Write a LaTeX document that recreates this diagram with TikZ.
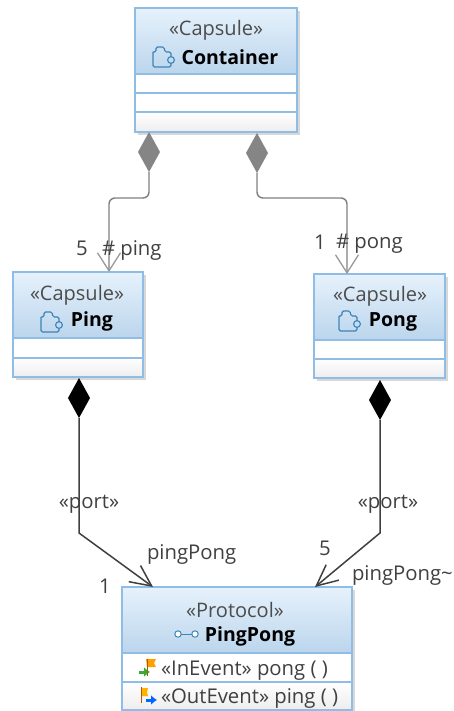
\documentclass[tikz,border=0pt]{standalone}
\usepackage{fontspec}
\setmainfont{Open Sans}
\usetikzlibrary{arrows.meta,shapes.geometric,calc}
\definecolor{edge}{HTML}{8FBDE6}
\definecolor{hdtop}{HTML}{E6F2FC}
\definecolor{hdbot}{HTML}{BBD5EC}
\definecolor{ink}{HTML}{404040}
\definecolor{iconblue}{HTML}{3D85B8}
\tikzset{
 x=1pt,y=-1pt,
 every node/.style={inner sep=0pt,outer sep=0pt,font=\fontsize{20.3}{22}\selectfont,text=ink},
 boxbody/.style={rectangle,anchor=north west,draw=edge,line width=1.4pt,fill=white},
 header/.style={draw=edge,line width=1.1pt,top color=hdtop,bottom color=hdbot},
 comp/.style={draw=edge,line width=1.1pt,fill=white},
 lastcomp/.style={draw=edge,line width=1.1pt,top color=white,bottom color=black!7},
 shade/.style={fill=black!28,draw=none,opacity=.55},
 stereo/.style={font=\fontsize{20}{22}\selectfont,text=black!70,yshift=-1.5pt},
 title/.style={font=\fontsize{19.5}{22}\bfseries\selectfont,text=black},
 lab/.style={text=ink,yshift=-2.5pt},
 digit/.style={text=ink,yshift=-1pt},
 graydia/.style={diamond,aspect=.55,fill=black!48,draw=none,minimum width=22pt,minimum height=40pt},
 blackdia/.style={diamond,aspect=.55,fill=black,draw=none,minimum width=22pt,minimum height=40pt},
 graylink/.style={draw=black!50,line width=1.4pt,rounded corners=6pt,-{Straight Barb[length=18pt,width=23pt,black!40,line width=1.3pt]}},
 blacklink/.style={draw=black!75,line width=1.5pt,-{Straight Barb[length=21pt,width=20pt,black!75,line width=1.5pt]}},
 capicon/.style={draw=iconblue,line width=1.1pt},
}
\newcommand{\capicon}[2]{%
 \begin{scope}[shift={(#1,#2)}]
  \draw[capicon,rounded corners=1.5pt] (-10,-5) -- (-7,-5) -- (-7,-10) -- (1,-10) -- (2,-5) -- (8,-5) -- (8,0) (8,6) -- (8,10) -- (-10,10) -- (-10,-5);
  \draw[capicon] (8,3) circle (3.4pt);
 \end{scope}}
\begin{document}
\begin{tikzpicture}
\useasboundingbox (0,0) rectangle (453,711);
\fill[white] (0,0) rectangle (453,711);

% ---- Container
\fill[shade] (138,11) rectangle (300,135);
\node[boxbody,minimum width=162pt,minimum height=124pt] (container) at (135,8) {};
\draw[header] (135,8) rectangle (297,74);
\draw[comp] (135,74) rectangle (297,93);
\draw[comp] (135,93) rectangle (297,112);
\draw[lastcomp] (135,112) rectangle (297,132);
\node[stereo] (containerS) at (216,29) {«Capsule»};
\node[title] (containerT) at (230,57) {Container};
\capicon{163}{57}

% ---- Ping
\fill[shade] (16,275) rectangle (146,380);
\node[boxbody,minimum width=130pt,minimum height=105pt] (ping) at (13,272) {};
\draw[header] (13,272) rectangle (143,338);
\draw[comp] (13,338) rectangle (143,358);
\draw[lastcomp] (13,358) rectangle (143,377);
\node[stereo] (pingS) at (77,294) {«Capsule»};
\node[title] (pingT) at (92,321) {Ping};
\capicon{51}{322}

% ---- Pong
\fill[shade] (317,277) rectangle (448,381);
\node[boxbody,minimum width=131pt,minimum height=104pt] (pong) at (314,274) {};
\draw[header] (314,274) rectangle (445,340);
\draw[comp] (314,340) rectangle (445,359);
\draw[lastcomp] (314,359) rectangle (445,378);
\node[stereo] (pongS) at (380,295) {«Capsule»};
\node[title] (pongT) at (393,322) {Pong};
\capicon{349}{321}

% ---- PingPong
\fill[shade] (125,590) rectangle (355,711);
\node[boxbody,minimum width=230pt,minimum height=123pt] (proto) at (122,587) {};
\draw[header] (122,587) rectangle (352,653);
\draw[comp] (122,653) rectangle (352,682);
\draw[lastcomp] (122,682) rectangle (352,710);
\node[stereo] (protoS) at (235,608) {«Protocol»};
\node[title] (protoT) at (250,636) {PingPong};
\draw[iconblue,line width=1pt,fill=white] (178,634) circle (3.2pt) (195,634) circle (3.2pt);
\draw[iconblue,line width=1pt] (181,634) -- (192,634);
\node[lab,anchor=west,yshift=1pt] (inev) at (161,669) {«InEvent» pong ( )};
\node[lab,anchor=west,yshift=1pt] (outev) at (161,697) {«OutEvent» ping ( )};
% event icons
\draw[-{Latex[length=6pt,width=10pt]},draw=black!40!green!80,line width=3pt] (139,672) -- (150,672);
\fill[orange!75!yellow] (146,659) -- (156,659) -- (154,663) -- (156,667) -- (147,667) -- cycle;
\draw[orange!70!black,line width=1pt] (147,659) -- (147,676);
\fill[orange!60!yellow] (141,688) -- (148,688) -- (147,692) -- (148,696) -- (142,696) -- cycle;
\draw[orange!70!black,line width=1pt] (141,687) -- (141,703);
\draw[-{Latex[length=6pt,width=10pt]},draw=blue!60!cyan,line width=3pt] (146,700) -- (157,700);

% ---- Diamonds
\node[graydia] (d1) at (149,152) {};
\node[graydia] (d2) at (257,153) {};
\node[blackdia] (d3) at (79,398) {};
\node[blackdia] (d4) at (380,400) {};

% ---- Connector ends
\coordinate (pingIn) at (109,272);
\coordinate (pongIn) at (347,274);
\coordinate (protoL) at (153,587);
\coordinate (protoR) at (315,587);
\coordinate (kneeL) at (79,533);
\coordinate (kneeR) at (380,533);

\draw[graylink] (d1.south) -- (149,198) -- (109,198) -- (pingIn);
\draw[graylink] (d2.south) -- (257,198) -- (347,198) -- (pongIn);
\draw[blacklink] (d3.south) -- (kneeL) -- (protoL);
\draw[blacklink] (d4.south) -- (kneeR) -- (protoR);

% ---- Labels
\node[digit] (m5) at (82,247) {5};
\node[lab,anchor=west] (rping) at (102,248) {\# ping};
\node[digit] (m1) at (320,241) {1};
\node[lab,anchor=west] (rpong) at (336,241) {\# pong};
\node[lab] (p1) at (89,502) {«port»};
\node[lab] (p2) at (388,502) {«port»};
\node[lab,anchor=west] (r1) at (147,552) {pingPong};
\node[digit] (m1b) at (105,585) {1};
\node[digit] (m5b) at (325,547) {5};
\node[lab,anchor=west] (r2) at (352,573) {pingPong\textasciitilde};
\end{tikzpicture}
\end{document}
